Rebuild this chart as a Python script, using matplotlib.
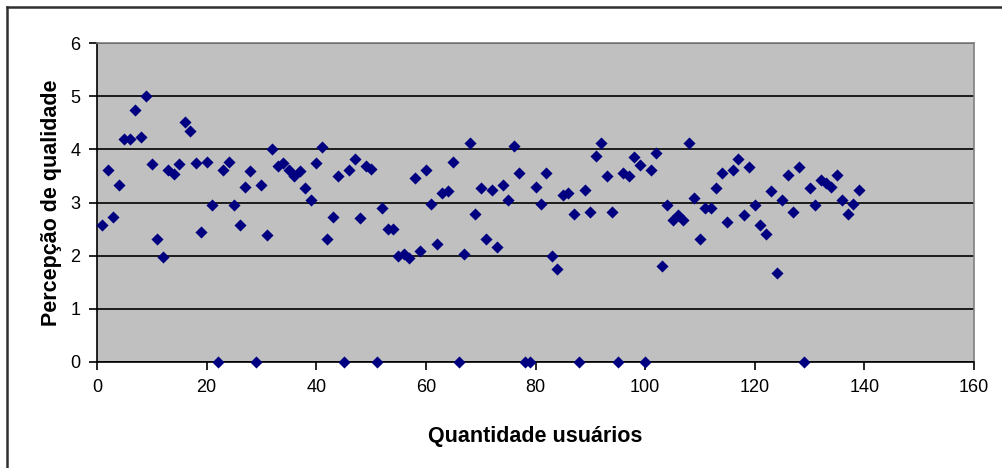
import numpy as np
import matplotlib.pyplot as plt
from matplotlib.lines import Line2D

# User index and perceived quality
usuarios = np.arange(1, 140)
qualidade = [
    2.57, 3.62, 2.73, 3.33, 4.20, 4.20, 4.74, 4.23, 5.00, 3.72,   # 1-10
    2.32, 1.98, 3.62, 3.54, 3.72, 4.52, 4.35, 3.74, 2.45, 3.77,   # 11-20
    2.95, 0.00, 3.62, 3.76, 2.95, 2.57, 3.30, 3.59, 0.00, 3.33,   # 21-30
    2.38, 4.00, 3.68, 3.74, 3.62, 3.49, 3.59, 3.27, 3.05, 3.74,   # 31-40
    4.04, 2.32, 2.73, 3.49, 0.00, 3.62, 3.82, 2.70, 3.69, 3.63,   # 41-50
    0.00, 2.89, 2.50, 2.50, 2.00, 2.03, 1.95, 3.46, 2.09, 3.62,   # 51-60
    2.98, 2.22, 3.18, 3.21, 3.77, 0.00, 2.03, 4.12, 2.79, 3.27,   # 61-70
    2.32, 3.24, 2.16, 3.33, 3.05, 4.07, 3.55, 0.00, 0.00, 3.30,   # 71-80
    2.98, 3.55, 1.99, 1.74, 3.15, 3.18, 2.79, 0.00, 3.24, 2.82,   # 81-90
    3.87, 4.12, 3.49, 2.82, 0.00, 3.55, 3.49, 3.85, 3.71, 0.00,   # 91-100
    3.62, 3.94, 1.81, 2.95, 2.67, 2.76, 2.67, 4.12, 3.08, 2.32,   # 101-110
    2.89, 2.89, 3.27, 3.55, 2.64, 3.62, 3.82, 2.76, 3.66, 2.95,   # 111-120
    2.57, 2.41, 3.21, 1.68, 3.05, 3.52, 2.82, 3.66, 0.00, 3.27,   # 121-130
    2.95, 3.43, 3.37, 3.30, 3.52, 3.05, 2.79, 2.98, 3.24,         # 131-139
]

plt.rcParams['font.family'] = ['Liberation Sans', 'DejaVu Sans']

fig = plt.figure(figsize=(10.02, 4.68), dpi=100)
ax = fig.add_axes([97/1002, 106/468, 877/1002, 319/468])

ax.set_facecolor('#C0C0C0')
ax.scatter(usuarios, qualidade, marker='D', s=38, color='#000080',
           zorder=3, clip_on=False, linewidths=0)

ax.set_xlim(0, 160)
ax.set_ylim(0, 6)
ax.set_xticks(range(0, 161, 20))
ax.set_yticks(range(0, 7))
ax.yaxis.grid(True, color='black', linewidth=1.2)
ax.set_axisbelow(True)

for s in ['top', 'right']:
    ax.spines[s].set_color('#808080')
    ax.spines[s].set_linewidth(1.2)
for s in ['left', 'bottom']:
    ax.spines[s].set_color('black')
    ax.spines[s].set_linewidth(1.2)

ax.tick_params(direction='out', length=6, width=1.2, labelsize=13, pad=6)

ax.set_xlabel('Quantidade usuários', fontsize=15.5, fontweight='bold', labelpad=22)
ax.set_ylabel('Percepção de qualidade', fontsize=15.5, fontweight='bold', labelpad=6)

# outer chart frame (top and left edges visible)
fig.add_artist(Line2D([7/1002, 1], [1 - 7/468, 1 - 7/468], color='#303030',
                      linewidth=1.8, transform=fig.transFigure))
fig.add_artist(Line2D([7/1002, 7/1002], [0, 1 - 7/468], color='#303030',
                      linewidth=1.8, transform=fig.transFigure))

fig.savefig('out.png', dpi=100)
